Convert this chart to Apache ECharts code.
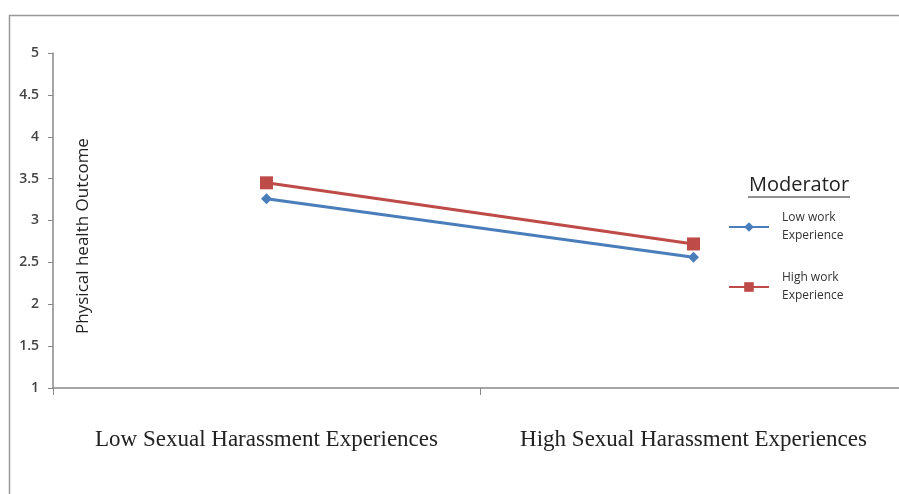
<!DOCTYPE html>
<html>
<head>
<meta charset="utf-8">
<script src="https://cdn.jsdelivr.net/npm/echarts@6/dist/echarts.min.js"></script>
<style>
  html, body { margin: 0; padding: 0; background: #fff; overflow: hidden; }
  #chart { width: 910px; height: 494px; }
</style>
</head>
<body>
<div id="chart"></div>
<script>
  // categories on the x axis
  var categories = ['Low Sexual Harassment Experiences', 'High Sexual Harassment Experiences'];
  // moderator series
  var lowWork = [3.26, 2.56];
  var highWork = [3.45, 2.72];
  var yTicks = [1, 5, 0.5]; // min, max, step

  var chart = echarts.init(document.getElementById('chart'));
  chart.setOption({
    animation: false,
    // axis runs a bit past the visible right edge, as in the original
    grid: { left: 53, right: 3, top: 53, bottom: 106 },
    legend: {
      orient: 'vertical',
      left: 723,
      top: 204,
      padding: 5,
      itemWidth: 40,
      itemHeight: 12,
      itemGap: 24,
      textStyle: { fontFamily: 'Open Sans', fontSize: 12, lineHeight: 18, color: '#333',
                   padding: [0, 0, 0, 8] },
      data: ['Low work\nExperience', 'High work\nExperience']
    },
    xAxis: {
      type: 'category',
      data: categories,
      boundaryGap: true,
      axisLine: { lineStyle: { color: '#888', width: 1.5 } },
      axisTick: { show: true, interval: 0, length: 7, lineStyle: { color: '#888' } },
      axisLabel: { interval: 0, hideOverlap: false, margin: 40,
                   fontFamily: 'Liberation Serif', fontSize: 23, color: '#222' }
    },
    yAxis: {
      type: 'value',
      min: yTicks[0],
      max: yTicks[1],
      interval: yTicks[2],
      splitLine: { show: false },
      axisLine: { show: true, lineStyle: { color: '#888', width: 1.5 } },
      axisTick: { show: true, length: 5, lineStyle: { color: '#888' } },
      axisLabel: { margin: 14, fontFamily: 'Open Sans', fontSize: 14, fontWeight: 600, color: '#444' }
    },
    graphic: [
      {
        type: 'rect', left: 7, top: 13, silent: true,
        shape: { width: 920, height: 500 },
        style: { fill: 'none', stroke: '#999', lineWidth: 1.5 }
      },
      {
        type: 'text', x: 83, y: 236, rotation: Math.PI / 2, silent: true,
        style: { text: 'Physical health Outcome', fontFamily: 'Open Sans', fontSize: 17,
                 fill: '#222', align: 'center', verticalAlign: 'middle' }
      },
      {
        type: 'text', x: 799, y: 185, silent: true,
        style: { text: 'Moderator', fontFamily: 'Open Sans', fontSize: 20,
                 fill: '#222', align: 'center', verticalAlign: 'middle' }
      },
      {
        type: 'line', silent: true,
        shape: { x1: 748, y1: 197, x2: 850, y2: 197 },
        style: { stroke: '#222', lineWidth: 1 }
      }
    ],
    series: [
      {
        name: 'Low work\nExperience',
        type: 'line',
        data: lowWork,
        symbol: 'diamond',
        symbolSize: 11,
        lineStyle: { color: '#4A7EBB', width: 3 },
        itemStyle: { color: '#4A7EBB' }
      },
      {
        name: 'High work\nExperience',
        type: 'line',
        data: highWork,
        symbol: 'rect',
        symbolSize: 13,
        lineStyle: { color: '#BE4B48', width: 3 },
        itemStyle: { color: '#BE4B48' }
      }
    ]
  });
</script>
</body>
</html>
